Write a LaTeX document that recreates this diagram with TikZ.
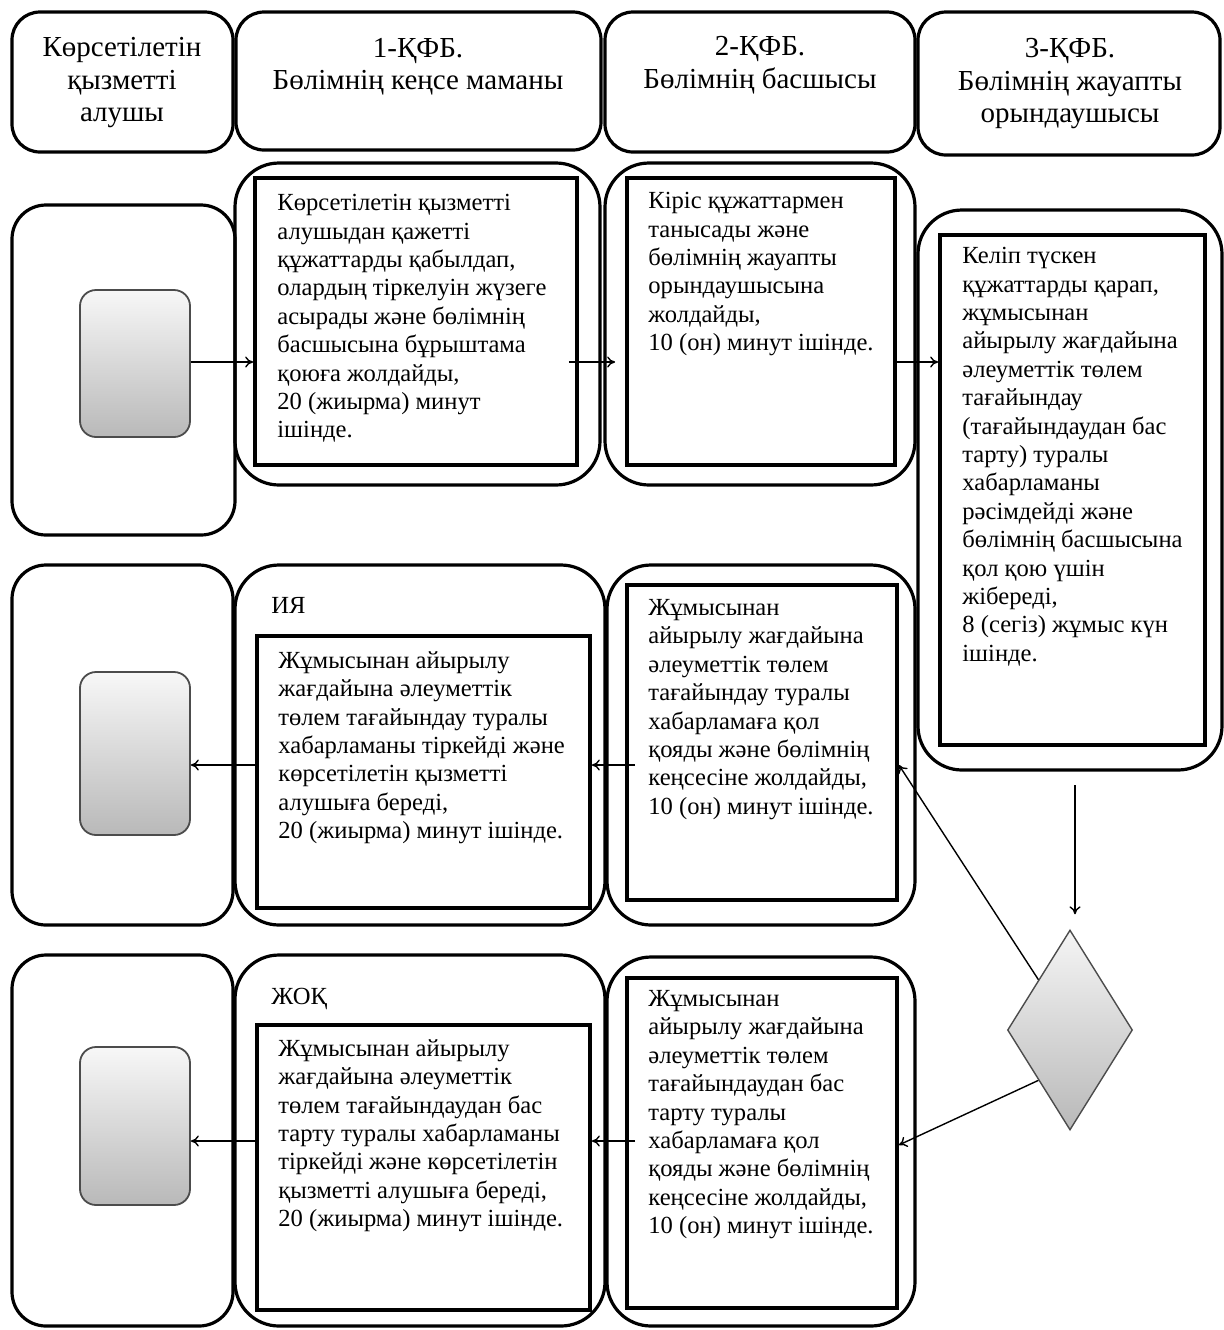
\documentclass[tikz,border=0pt]{standalone}
\usepackage{fontspec}
\setmainfont{Liberation Serif}
\usetikzlibrary{arrows.meta,shapes.geometric,fit}
\tikzset{
  hdr/.style={draw, line width=1.6pt, rounded corners=14pt, inner sep=0pt},
  outerbox/.style={draw, line width=1.6pt, rounded corners=22pt, inner sep=0pt},
  clientbox/.style={draw, line width=1.6pt, rounded corners=17pt, inner sep=0pt},
  innerbox/.style={draw, line width=1.9pt, inner sep=0pt},
  graybox/.style={draw=gray!60!black, line width=0.9pt, rounded corners=8pt, top color=gray!6, bottom color=gray!55, inner sep=0pt},
  decision/.style={diamond, draw=gray!60!black, line width=0.7pt, top color=gray!8, bottom color=gray!55, inner sep=0pt, minimum width=62.5pt, minimum height=100pt},
  body/.style={anchor=north west, align=left, inner sep=0pt, font=\fontsize{12.3}{14.2}\selectfont},
  htext/.style={anchor=north, align=center, inner sep=0pt, font=\fontsize{14.5}{16.2}\selectfont},
  lbl/.style={anchor=base west, inner sep=0pt, font=\fontsize{12.3}{14.2}\selectfont},
  arr/.style={-{To[length=4pt,width=5.5pt]}, line width=0.7pt},
}
\begin{document}
\begin{tikzpicture}[x=0.5pt,y=-0.5pt]
\useasboundingbox[fill=white] (0,0) rectangle (1224,1330);
% headers
\node[hdr, fit={(12,12)(233,152)}] (h0) {};
\node[hdr, fit={(236,12)(601,150)}] (h1) {};
\node[hdr, fit={(605,12)(915,152)}] (h2) {};
\node[hdr, fit={(918,12)(1220,155)}] (h3) {};
\node[htext] (h0t) at (122,37) {Көрсетілетін\\қызметті\\алушы};
\node[htext] (h1t) at (418,38) {1-ҚФБ.\\Бөлімнің кеңсе маманы};
\node[htext] (h2t) at (760,36) {2-ҚФБ.\\Бөлімнің басшысы};
\node[htext] (h3t) at (1070,38) {3-ҚФБ.\\Бөлімнің жауапты\\орындаушысы};
% row 1
\node[clientbox, fit={(12,205)(235,535)}] (c1) {};
\node[graybox, fit={(80,290)(190,437)}] (g1) {};
\node[outerbox, fit={(235,163)(600,485)}] (A) {};
\node[innerbox, fit={(255,178)(577,465)}] (Ai) {};
\node[outerbox, fit={(605,163)(915,485)}] (B) {};
\node[innerbox, fit={(627,178)(895,465)}] (Bi) {};
\node[outerbox, fit={(918,210)(1222,770)}] (C) {};
\node[innerbox, fit={(940,235)(1205,745)}] (Ci) {};
\node[body] (At) at (277,194) {Көрсетілетін қызметті\\алушыдан қажетті\\құжаттарды қабылдап,\\олардың тіркелуін жүзеге\\асырады және бөлімнің\\басшысына бұрыштама\\қоюға жолдайды,\\20 (жиырма) минут\\ішінде.};
\node[body] (Bt) at (648,192) {Кіріс құжаттармен\\танысады және\\бөлімнің жауапты\\орындаушысына\\жолдайды,\\10 (он) минут ішінде.};
\node[body] (Ct) at (962,247) {Келіп түскен\\құжаттарды қарап,\\жұмысынан\\айырылу жағдайына\\әлеуметтік төлем\\тағайындау\\(тағайындаудан бас\\тарту) туралы\\хабарламаны\\рәсімдейді және\\бөлімнің басшысына\\қол қою үшін\\жібереді,\\8 (сегіз) жұмыс күн\\ішінде.};
% row 2
\node[clientbox, fit={(12,565)(233,925)}] (c2) {};
\node[graybox, fit={(80,672)(190,835)}] (g2) {};
\node[outerbox, fit={(235,565)(605,925)}] (D) {};
\node[innerbox, fit={(257,636)(590,908)}] (Di) {};
\node[outerbox, fit={(607,565)(915,925)}] (E) {};
\node[innerbox, fit={(627,585)(897,900)}] (Ei) {};
\node[lbl] (Dl) at (271,613) {ИЯ};
\node[body] (Dt) at (278,651) {Жұмысынан айырылу\\жағдайына әлеуметтік\\төлем тағайындау туралы\\хабарламаны тіркейді және\\көрсетілетін қызметті\\алушыға береді,\\20 (жиырма) минут ішінде.};
\node[body] (Et) at (648,599) {Жұмысынан\\айырылу жағдайына\\әлеуметтік төлем\\тағайындау туралы\\хабарламаға қол\\қояды және бөлімнің\\кеңсесіне жолдайды,\\10 (он) минут ішінде.};
% row 3
\node[clientbox, fit={(12,955)(233,1326)}] (c3) {};
\node[graybox, fit={(80,1047)(190,1205)}] (g3) {};
\node[outerbox, fit={(235,955)(605,1326)}] (G) {};
\node[innerbox, fit={(257,1025)(590,1310)}] (Gi) {};
\node[outerbox, fit={(607,957)(915,1326)}] (F) {};
\node[innerbox, fit={(627,978)(897,1308)}] (Fi) {};
\node[lbl] (Gl) at (271,1004) {ЖОҚ};
\node[body] (Gt) at (278,1039) {Жұмысынан айырылу\\жағдайына әлеуметтік\\төлем тағайындаудан бас\\тарту туралы хабарламаны\\тіркейді және көрсетілетін\\қызметті алушыға береді,\\20 (жиырма) минут ішінде.};
\node[body] (Ft) at (648,990) {Жұмысынан\\айырылу жағдайына\\әлеуметтік төлем\\тағайындаудан бас\\тарту туралы\\хабарламаға қол\\қояды және бөлімнің\\кеңсесіне жолдайды,\\10 (он) минут ішінде.};
% decision
\node[decision] (dm) at (1070,1030) {};
% connectors
\coordinate (r1) at (0,362);
\coordinate (r2) at (0,765);
\coordinate (r3) at (0,1141);
\coordinate (r3b) at (0,1145);
\coordinate (cd) at (1075,785);
\draw[arr] (r1 -| g1.east) -- (r1 -| Ai.west);
\draw[arr, shorten <=-5pt, shorten >=5pt] (r1 -| Ai.east) -- (r1 -| Bi.west);
\draw[arr] (r1 -| Bi.east) -- (r1 -| Ci.west);
\draw[arr, shorten >=7.5pt] (cd) -- (cd |- dm.north);
\draw[arr] (dm.north west) -- (r2 -| Ei.east);
\draw[arr] (dm.south west) -- (r3b -| Fi.east);
\draw[arr, shorten <=-5pt] (r2 -| Ei.west) -- (r2 -| Di.east);
\draw[arr] (r2 -| Di.west) -- (r2 -| g2.east);
\draw[arr, shorten <=-5pt] (r3 -| Fi.west) -- (r3 -| Gi.east);
\draw[arr] (r3 -| Gi.west) -- (r3 -| g3.east);
\end{tikzpicture}
\end{document}
